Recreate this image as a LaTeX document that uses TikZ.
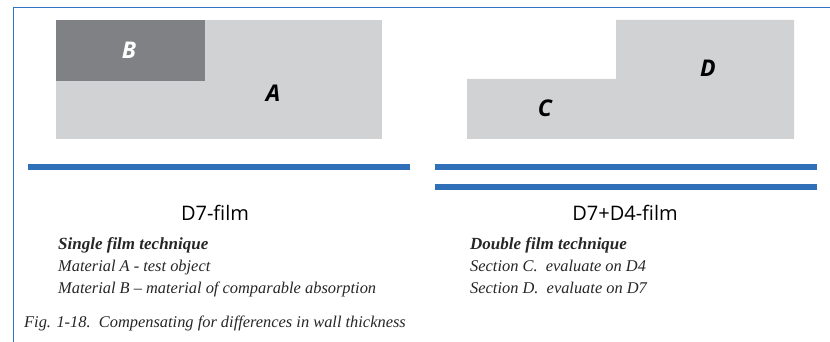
\documentclass[tikz,border=0pt]{standalone}
\usepackage{fontspec}
\setmainfont{Liberation Serif}
\newfontfamily\labfont{Open Sans}
\definecolor{barblue}{HTML}{2F70B8}
\definecolor{frameblue}{HTML}{2F74C6}
\definecolor{lgray}{HTML}{D1D2D4}
\definecolor{dgray}{HTML}{808184}
\tikzset{
  bar/.style={fill=barblue},
  letter/.style={font=\labfont\fontsize{23}{23}\selectfont\bfseries\itshape, inner sep=0pt},
  filmlab/.style={font=\labfont\fontsize{20}{22}\selectfont, inner sep=0pt, anchor=base},
  txt/.style={font=\fontsize{16.4}{18}\selectfont\itshape, inner sep=0pt, anchor=base west, text=black!85},
  btxt/.style={txt, font=\fontsize{17}{18}\selectfont\itshape\bfseries},
}
\begin{document}
\begin{tikzpicture}[x=1pt,y=-1pt]
\useasboundingbox (0,0) rectangle (830,342);
% frame
\draw[frameblue, line width=1.8pt] (13.5,342) -- (13.5,7.5) -- (830,7.5);
% left shapes
\fill[lgray] (56,20) rectangle (382,139);
\fill[dgray] (56,20) rectangle (205,81);
\node[letter, text=white] (B) at (129,50) {B};
\node[letter, text=black] (A) at (273,93) {A};
% right shape
\fill[lgray] (467,79) -- (616,79) -- (616,20) -- (794,20) -- (794,139) -- (467,139) -- cycle;
\node[letter, text=black] (C) at (545,108) {C};
\node[letter, text=black] (D) at (708,68) {D};
% bars
\fill[bar] (28,164) rectangle (410,170);
\fill[bar] (435,164) rectangle (817,170);
\fill[bar] (435,184) rectangle (817,190);
% film labels
\node[filmlab] (f1) at (215,220) {D7-film};
\node[filmlab] (f2) at (625,220) {D7+D4-film};
% left text
\node[btxt] (l1) at (58,249) {Single film technique};
\node[txt] (l2) at (58,271) {Material A - test object};
\node[txt] (l3) at (58,293) {Material B -- material of comparable absorption};
\node[txt] (cap) at (24,327) {Fig. 1-18.\ \ Compensating for differences in wall thickness};
% right text
\node[btxt] (r1) at (470,249) {Double film technique};
\node[txt] (r2) at (470,271) {Section C.\ \ evaluate on D4};
\node[txt] (r3) at (470,293) {Section D.\ \ evaluate on D7};
\end{tikzpicture}
\end{document}
